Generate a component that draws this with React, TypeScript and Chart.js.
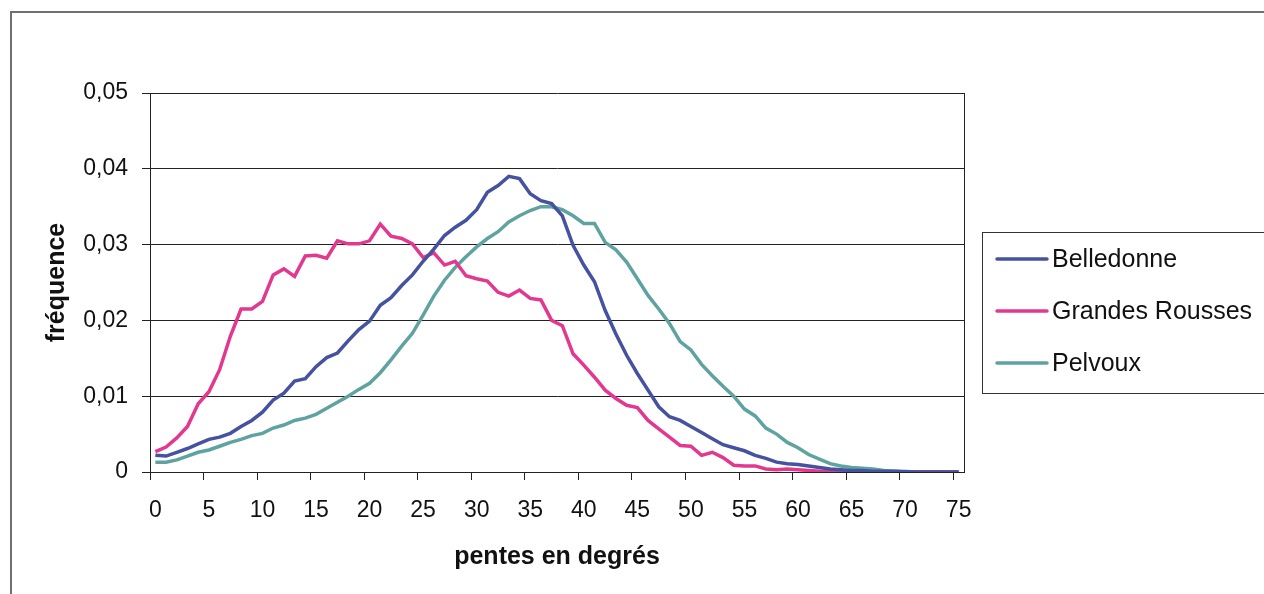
import React, { useEffect, useRef } from "react";
import { Chart, registerables } from "chart.js";

Chart.register(...registerables);

const categories: string[] = Array.from({ length: 76 }, (_, i) => String(i));

const belledonne: number[] = [
  0.0022, 0.0021, 0.0026, 0.0031, 0.0037, 0.0043, 0.0046, 0.0051, 0.0060, 0.0068,
  0.0079, 0.0095, 0.0104, 0.0120, 0.0123, 0.0139, 0.0151, 0.0157, 0.0173, 0.0188,
  0.0199, 0.0220, 0.0230, 0.0246, 0.0260, 0.0278, 0.0294, 0.0312, 0.0323, 0.0332,
  0.0346, 0.0369, 0.0378, 0.0390, 0.0387, 0.0367, 0.0358, 0.0354, 0.0338, 0.0299,
  0.0273, 0.0251, 0.0213, 0.0182, 0.0154, 0.0130, 0.0108, 0.0086, 0.0073, 0.0068,
  0.0060, 0.0052, 0.0044, 0.0036, 0.0032, 0.0028, 0.0022, 0.0018, 0.0013, 0.0011,
  0.0010, 0.0008, 0.0006, 0.0004, 0.0003, 0.0002, 0.0002, 0.0001, 0.0001, 0.0001,
  0.00005, 0, 0, 0, 0, 0,
];

const grandesRousses: number[] = [
  0.0027, 0.0033, 0.0045, 0.0060, 0.0090, 0.0106, 0.0135, 0.0179, 0.0215, 0.0215,
  0.0225, 0.0260, 0.0268, 0.0258, 0.0285, 0.0286, 0.0282, 0.0305, 0.0301, 0.0301,
  0.0305, 0.0327, 0.0311, 0.0308, 0.0301, 0.0283, 0.0289, 0.0273, 0.0278, 0.0259,
  0.0255, 0.0252, 0.0237, 0.0232, 0.0240, 0.0229, 0.0227, 0.0200, 0.0193, 0.0156,
  0.0141, 0.0125, 0.0108, 0.0097, 0.0088, 0.0085, 0.0068, 0.0057, 0.0046, 0.0035,
  0.0034, 0.0022, 0.0026, 0.0019, 0.0009, 0.0008, 0.0008, 0.0004, 0.0003, 0.0004,
  0.0003, 0.0002, 0.0001, 0.0001, 0, 0, 0, 0, 0, 0,
  0, 0, 0, 0, 0, 0,
];

const pelvoux: number[] = [
  0.0013, 0.0013, 0.0016, 0.0021, 0.0026, 0.0029, 0.0034, 0.0039, 0.0043, 0.0048,
  0.0051, 0.0058, 0.0062, 0.0068, 0.0071, 0.0076, 0.0084, 0.0092, 0.0100, 0.0109,
  0.0117, 0.0131, 0.0148, 0.0166, 0.0183, 0.0207, 0.0232, 0.0253, 0.0270, 0.0284,
  0.0297, 0.0308, 0.0317, 0.0330, 0.0338, 0.0345, 0.0350, 0.0350, 0.0346, 0.0338,
  0.0328, 0.0328, 0.0303, 0.0293, 0.0277, 0.0255, 0.0233, 0.0215, 0.0196, 0.0172,
  0.0161, 0.0142, 0.0127, 0.0113, 0.0100, 0.0083, 0.0074, 0.0058, 0.0050, 0.0039,
  0.0032, 0.0023, 0.0017, 0.0011, 0.0008, 0.0006, 0.0005, 0.0004, 0.0002, 0.0001,
  0, 0, 0, 0, 0, 0,
];

const seriesNames: string[] = ["Belledonne", "Grandes Rousses", "Pelvoux"];
const seriesColors: string[] = ["#45529f", "#e2388f", "#5fa3a0"];
const yTickValues: number[] = [0, 0.01, 0.02, 0.03, 0.04, 0.05];

const FONT = "'Liberation Sans', Arial, Helvetica, sans-serif";

const framePlugin = {
  id: "frame",
  beforeDraw(chart: any) {
    const ctx = chart.ctx;
    ctx.save();
    ctx.fillStyle = "#ffffff";
    ctx.fillRect(0, 0, chart.width, chart.height);
    ctx.strokeStyle = "#707070";
    ctx.lineWidth = 2;
    ctx.beginPath();
    ctx.moveTo(11, chart.height + 5);
    ctx.lineTo(11, 12);
    ctx.lineTo(chart.width + 5, 12);
    ctx.stroke();
    ctx.restore();
  },
  afterDraw(chart: any) {
    const ctx = chart.ctx;
    const a = chart.chartArea;
    ctx.save();
    ctx.strokeStyle = "#222222";
    ctx.lineWidth = 1;
    ctx.beginPath();
    ctx.moveTo(a.right + 0.5, a.top);
    ctx.lineTo(a.right + 0.5, a.bottom);
    ctx.stroke();

    // legend box
    const boxLeft = 982;
    const boxTop = 232;
    const boxBottom = 393;
    ctx.strokeStyle = "#333333";
    ctx.lineWidth = 1;
    ctx.strokeRect(boxLeft + 0.5, boxTop + 0.5, 400, boxBottom - boxTop);
    const rows = [259, 311, 363];
    ctx.font = `25px ${FONT}`;
    ctx.textBaseline = "middle";
    ctx.textAlign = "left";
    chart.data.datasets.forEach((ds: any, i: number) => {
      const y = rows[i];
      ctx.strokeStyle = ds.borderColor;
      ctx.lineWidth = 3.5;
      ctx.lineCap = "round";
      ctx.beginPath();
      ctx.moveTo(997, y);
      ctx.lineTo(1047, y);
      ctx.stroke();
      ctx.fillStyle = "#111111";
      ctx.fillText(ds.label, 1052, y + 1);
    });
    ctx.restore();
  },
};

export default function App() {
  const canvasRef = useRef<HTMLCanvasElement | null>(null);

  useEffect(() => {
    if (!canvasRef.current) return;
    const chart = new Chart(canvasRef.current, {
      type: "line",
      data: {
        labels: categories,
        datasets: [belledonne, grandesRousses, pelvoux].map((d, i) => ({
          label: seriesNames[i],
          data: d,
          borderColor: seriesColors[i],
          backgroundColor: seriesColors[i],
          borderWidth: 3.5,
          pointRadius: 0,
          tension: 0,
          fill: false,
        })),
      },
      options: {
        animation: false,
        responsive: false,
        maintainAspectRatio: false,
        layout: { padding: { left: 0, top: 93, right: 300, bottom: 0 } },
        plugins: {
          legend: { display: false },
          tooltip: { enabled: false },
        },
        scales: {
          x: {
            type: "category",
            offset: true,
            afterFit(scale: any) {
              scale.height = 122;
            },
            grid: {
              offset: true,
              drawOnChartArea: false,
              drawTicks: true,
              tickLength: 8,
              color: (ctx: any) =>
                ctx.index !== undefined && ctx.index % 5 === 0 && ctx.index <= 75
                  ? "#222222"
                  : "rgba(0,0,0,0)",
            },
            border: { display: true, color: "#222222", width: 1 },
            ticks: {
              autoSkip: false,
              maxRotation: 0,
              minRotation: 0,
              padding: 17,
              color: "#111111",
              font: { family: FONT, size: 23 },
              callback: (value: any, index: number) =>
                index % 5 === 0 ? categories[index] : "",
            },
            title: {
              display: true,
              text: "pentes en degrés",
              color: "#111111",
              font: { family: FONT, size: 25, weight: "bold" },
              padding: { top: 0, bottom: 22 },
            },
          },
          y: {
            min: 0,
            max: 0.05,
            afterFit(scale: any) {
              scale.width = 150;
            },
            afterBuildTicks(scale: any) {
              scale.ticks = yTickValues.map((v) => ({ value: v }));
            },
            grid: {
              color: "#222222",
              lineWidth: 1,
              tickLength: 8,
              drawTicks: true,
            },
            border: { display: true, color: "#222222", width: 1 },
            ticks: {
              padding: 14,
              color: "#111111",
              font: { family: FONT, size: 23 },
              callback: (value: any) =>
                value === 0 ? "0" : Number(value).toFixed(2).replace(".", ","),
            },
            title: {
              display: true,
              text: "fréquence",
              color: "#111111",
              font: { family: FONT, size: 25, weight: "bold" },
              padding: { top: 42, bottom: 0 },
            },
          },
        },
      },
      plugins: [framePlugin],
    });
    return () => chart.destroy();
  }, []);

  return (
    <div style={{ position: "absolute", left: 0, top: 0, width: 1264, height: 594, overflow: "hidden", background: "#fff" }}>
      <canvas ref={canvasRef} width={1264} height={594} style={{ display: "block", width: 1264, height: 594 }} />
    </div>
  );
}
